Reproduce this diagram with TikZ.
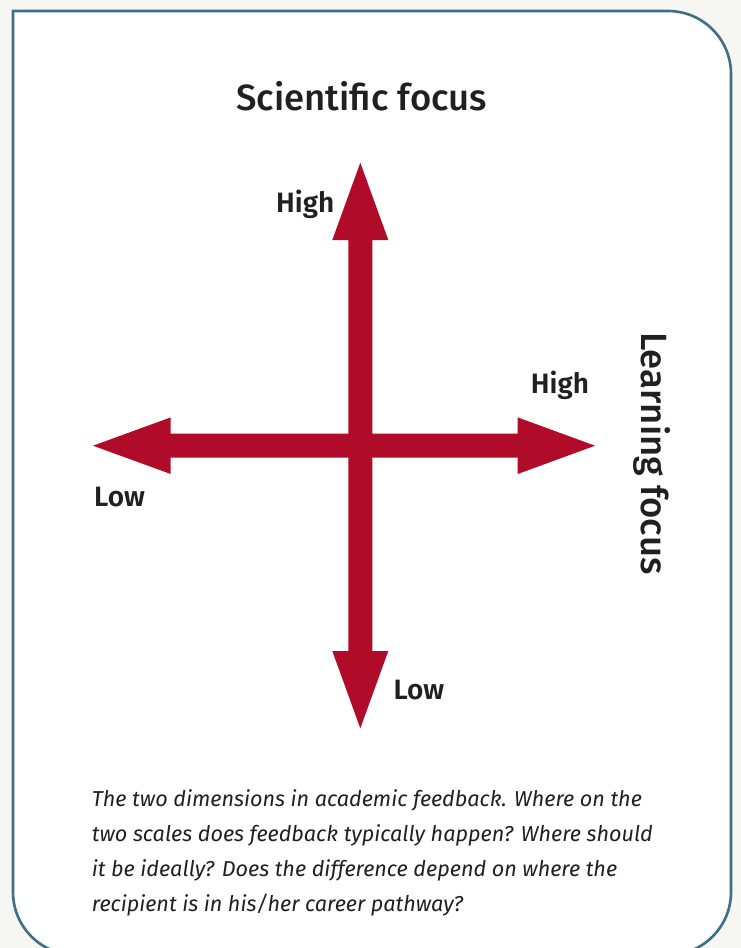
\documentclass[tikz,border=0pt]{standalone}
\usepackage{fontspec}
\setmainfont{Fira Sans}
\newfontfamily\titlefont{Fira Sans Medium}
\newfontfamily\labelfont{Fira Sans SemiBold}
\newfontfamily\capfont{Fira Sans}
\definecolor{bgout}{HTML}{F6F6F2}
\definecolor{frame}{HTML}{3F6F86}
\definecolor{arrowred}{HTML}{B00B28}
\definecolor{ink}{HTML}{231F20}
\begin{document}
\begin{tikzpicture}[x=1pt,y=-1pt,
  axlabel/.style={font=\labelfont\fontsize{28}{32}\selectfont, text=ink, inner sep=0pt},
  bigtitle/.style={font=\titlefont\fontsize{36.5}{42}\selectfont, text=ink, inner sep=0pt},
  captext/.style={font=\capfont\itshape\fontsize{21.6}{35}\selectfont, text=ink, inner sep=0pt, align=left},
  axisshape/.style={fill=arrowred, draw=none}]
\useasboundingbox (0,0) rectangle (741,948);
\fill[bgout] (0,0) rectangle (741,948);
% frame
\filldraw[fill=white, draw=frame, line width=2.6pt]
  (13,11) -- (668,11) arc[start angle=-90, end angle=0, radius=63]
  -- (731,892) arc[start angle=0, end angle=90, radius=63]
  -- (76,955) arc[start angle=90, end angle=180, radius=63]
  -- cycle;
% axis coordinates
\coordinate (C) at (360.3,445.7);
\coordinate (Ltip) at (93,445.7);
\coordinate (Rtip) at (595,445.7);
\coordinate (Ttip) at (360.3,162.7);
\coordinate (Btip) at (360.3,728.3);
% horizontal double arrow
\fill[axisshape] (Ltip) -- (170.7,417.4) -- (170.7,433.7) -- (517.7,433.7) -- (517.7,417.4)
  -- (Rtip) -- (517.7,474) -- (517.7,457.7) -- (170.7,457.7) -- (170.7,474) -- cycle;
% vertical double arrow
\fill[axisshape] (Ttip) -- (388.3,240) -- (372.3,240) -- (372.3,651) -- (388.3,651)
  -- (Btip) -- (332.3,651) -- (348.3,651) -- (348.3,240) -- (332.3,240) -- cycle;
% texts
\node[bigtitle, anchor=base] (title) at (361.7,110) {Scientific focus};
\node[axlabel, anchor=base west] (hightop) at (276,212.7) {High};
\node[axlabel, anchor=base west] (highright) at (530.7,393.3) {High};
\node[axlabel, anchor=base west] (lowleft) at (94,506.7) {Low};
\node[axlabel, anchor=base west] (lowbottom) at (393.3,699) {Low};
\node[bigtitle, anchor=base, rotate=-90] (learn) at (641,453.4) {Learning focus};
\node[captext, anchor=base west] (cap) at (91.7,911.7) {The two dimensions in academic feedback. Where on the\\two scales does feedback typically happen? Where should\\it be ideally? Does the difference depend on where the\\recipient is in his/her career pathway?};
\end{tikzpicture}
\end{document}
